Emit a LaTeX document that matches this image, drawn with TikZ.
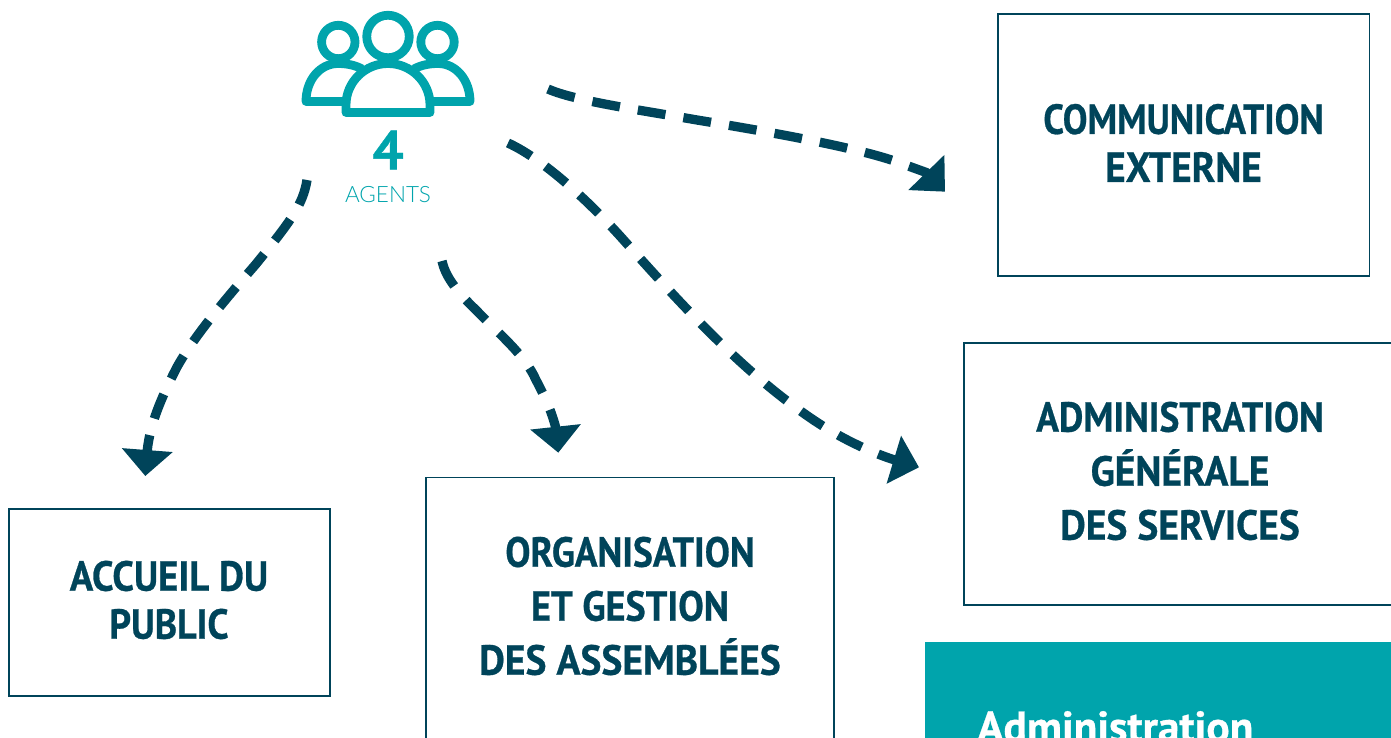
\documentclass[tikz,border=0pt]{standalone}
\usepackage{fontspec}
\setmainfont{PT Sans}[BoldFeatures={FakeBold=0.7}]
\newfontfamily\agentfont{Lato Light}
\usetikzlibrary{arrows.meta}
\definecolor{navy}{HTML}{00445A}
\definecolor{teal}{HTML}{00A4AC}
\tikzset{
  box/.style={draw=navy,line width=1.7pt,fill=white,inner sep=0pt,outer sep=0pt,anchor=north west},
  label/.style={text=navy,align=center,inner sep=0pt,xscale=.895},
  tight/.style={font=\bfseries\fontsize{42}{48}\selectfont},
  loose/.style={font=\bfseries\fontsize{42}{54}\selectfont},
  flow/.style={draw=navy,line width=9.3pt},
  icon/.style={draw=teal,line width=8.8pt,line join=round},
}
\begin{document}
\begin{tikzpicture}[x=1pt,y=-1pt]
\useasboundingbox (0,0) rectangle (1391,738);
\clip (0,0) rectangle (1391,738);
% boxes
\node[box,minimum width=371.5pt,minimum height=262pt] (comm) at (998,14) {};
\node[box,minimum width=440pt,minimum height=262pt] (adm) at (964,343) {};
\node[box,minimum width=321pt,minimum height=187pt] (acc) at (9,509) {};
\node[box,minimum width=408pt,minimum height=300pt] (org) at (426,477.5) {};
\node[fill=teal,inner sep=0pt,outer sep=0pt,anchor=north west,minimum width=480pt,minimum height=110pt] (tealb) at (925,642) {};
\node[anchor=base west,text=white,font=\bfseries\fontsize{43.5}{48}\selectfont,inner sep=0pt] (tealt) at (977,742) {Administration};
% labels
\node[label,tight,xscale=.983] (lcomm) at (1183.5,143) {COMMUNICATION\\\scalebox{1.065}[1]{EXTERNE}};
\node[label,loose] (ladm) at (1180,471) {ADMINISTRATION\\\scalebox{1.053}[1]{GÉNÉRALE}\\\scalebox{1.053}[1]{DES SERVICES}};
\node[label,tight,xscale=1.028] (lacc) at (169,600) {ACCUEIL DU\\\scalebox{.98}[1]{PUBLIC}};
\node[label,loose] (lorg) at (630,606) {ORGANISATION\\\scalebox{1.015}[1]{ET GESTION}\\\scalebox{1.053}[1]{DES ASSEMBLÉES}};
% icon
\draw[icon] (338.3,42) circle (16.7);
\draw[icon] (437.5,42) circle (16.7);
\draw[icon] (388,36.5) circle (21.25);
\draw[icon,fill=white] (362,69) .. controls (355,65) and (346,63.5) .. (338,63.5) .. controls (320,63.5) and (306,80) .. (306,101.5) -- (346,101.5);
\draw[icon,fill=white] (414,69) .. controls (421,65) and (430,63.5) .. (438,63.5) .. controls (456,63.5) and (470,80) .. (470,101.5) -- (430,101.5);
\draw[icon,fill=white] (346,112.5) -- (346,105) .. controls (346,82) and (365,63.5) .. (388,63.5) .. controls (411,63.5) and (430,82) .. (430,105) -- (430,112.5) -- cycle;
\node[text=teal,font=\bfseries\fontsize{55}{55}\selectfont,inner sep=0pt] (num) at (388,150) {4};
\node[text=teal,font=\agentfont\fontsize{22.5}{24}\selectfont,inner sep=0pt] (ag) at (388,195) {AGENTS};
% connectors
\coordinate (a1) at (548,89); \coordinate (a1b) at (926.3,172.5); \coordinate (a1t) at (945,191.7);
\coordinate (a2) at (508,143); \coordinate (a2b) at (893.8,459.7); \coordinate (a2t) at (919,467.3);
\coordinate (a3) at (307,180); \coordinate (a3b) at (147.3,450); \coordinate (a3t) at (145.3,476);
\coordinate (a4) at (442,261); \coordinate (a4b) at (555.5,426.7); \coordinate (a4t) at (558.3,452.7);
\draw[flow,dash pattern=on 28pt off 18.2pt,-{Triangle[length=26.8pt,width=48.7pt]}] (a1) .. controls (575,101) and (640,110) .. (697,120) .. controls (770,132) and (860,148) .. (900,163) -- (a1b) -- (a1t);
\draw[flow,dash pattern=on 26.5pt off 17.8pt,-{Triangle[length=26.3pt,width=48.6pt]}] (a2) .. controls (545,160) and (590,203) .. (620,236) .. controls (680,303) and (740,370) .. (812,419) .. controls (840,438) and (870,452) .. (a2b) -- (a2t);
\draw[flow,dash pattern=on 26pt off 17.3pt,-{Triangle[length=26pt,width=49.5pt]}] (a3) .. controls (303,205) and (290,222) .. (256,264) .. controls (225,300) and (195,335) .. (177,367) .. controls (160,400) and (150,425) .. (a3b) -- (a3t);
\draw[flow,dash pattern=on 28pt off 18.5pt,-{Triangle[length=26pt,width=49.3pt]}] (a4) .. controls (445,275) and (455,290) .. (476,310) .. controls (500,335) and (525,355) .. (536,380) .. controls (545,397) and (551,410) .. (a4b) -- (a4t);
\end{tikzpicture}
\end{document}
